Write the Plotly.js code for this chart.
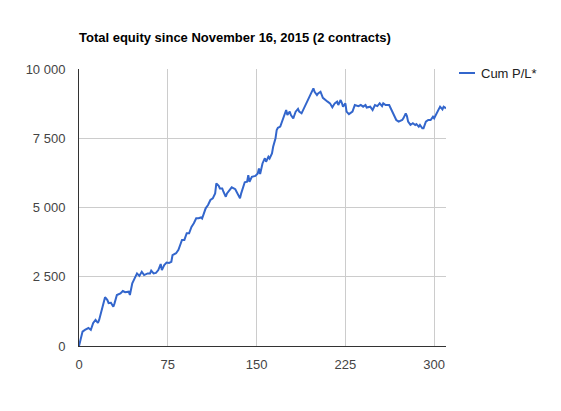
<!DOCTYPE html>
<html>
<head>
<meta charset="utf-8">
<script src="https://cdn.plot.ly/plotly-3.0.1.min.js"></script>
<style>html,body{margin:0;padding:0;background:#fff;}#chart{width:561px;height:411px;}</style>
</head>
<body>
<div id="chart"></div>
<script>
const seriesName = "Cum P/L*";
const chartTitle = "Total equity since November 16, 2015 (2 contracts)";
const days = [0,3,5,8,10,12,14,16,17,20,22,24,25,27,29,30,32,35,37,39,42,43,45,47,49,51,53,55,58,60,61,63,65,67,69,70,72,74,76,78,79,82,84,86,87,89,91,93,95,97,99,101,103,104,106,107,109,111,113,115,116,118,119,121,122,124,125,127,129,132,133,134,136,137,139,140,142,143,144,146,149,151,152,153,155,157,158,160,161,163,164,166,167,168,170,172,173,175,176,178,179,181,182,183,185,186,188,190,191,192,194,195,197,198,199,201,202,204,206,208,210,212,214,216,218,219,221,222,223,225,226,228,231,233,236,238,240,242,243,246,248,250,252,254,256,257,259,262,264,266,268,270,273,274,276,277,278,280,282,284,285,287,288,290,291,293,295,297,299,300,302,304,305,307,308,310];
const cumPL = [0,520,580,650,580,830,940,830,940,1420,1760,1660,1550,1560,1420,1540,1840,1900,1985,1940,1960,1840,2260,2440,2620,2530,2680,2560,2620,2620,2720,2620,2640,2740,2960,2740,2920,3010,3000,3040,3280,3350,3470,3710,3830,3830,4070,4070,4300,4430,4610,4610,4640,4600,4850,4970,5090,5270,5330,5510,5870,5780,5690,5690,5570,5390,5510,5630,5730,5660,5570,5450,5330,5510,5810,5910,5930,6170,5930,6110,6140,6230,6410,6210,6590,6780,6650,6830,6770,6950,7190,7500,7800,7880,7920,8160,8340,8520,8340,8460,8340,8220,8340,8460,8560,8460,8400,8580,8700,8780,8940,9060,9180,9300,9180,9060,9120,9180,8960,8880,8820,8760,8620,8760,8820,8700,8880,8780,8640,8760,8460,8370,8460,8700,8660,8700,8640,8700,8610,8640,8520,8700,8660,8760,8660,8760,8700,8700,8520,8340,8160,8100,8160,8220,8400,8300,8100,7980,8040,7980,8010,7920,7980,7860,7860,8100,8160,8160,8280,8220,8400,8520,8640,8540,8640,8580];
const xTicks = [0,75,150,225,300];
const xTickText = ["0","75","150","225","300"];
const yTicks = [0,2500,5000,7500,10000];
const yTickText = ["0","2 500","5 000","7 500","10 000"];

const W = 561, H = 411;
const L = 79, R = 446, T = 69, B = 346;

const trace = {
  x: days, y: cumPL, type: 'scatter', mode: 'lines', name: seriesName,
  line: {color: '#3366cc', width: 2}, showlegend: false, hoverinfo: 'skip'
};

const layout = {
  width: W, height: H,
  margin: {l: L, r: W - R, t: T, b: H - B, pad: 0},
  paper_bgcolor: '#fff', plot_bgcolor: '#fff',
  font: {family: 'Liberation Sans, Arial, sans-serif', size: 13, color: '#444'},
  title: {text: chartTitle, font: {family: 'Liberation Sans, Arial, sans-serif', size: 13, color: '#000', weight: 'bold'},
    xref: 'container', yref: 'container', x: L / W, xanchor: 'left', y: 1 - 37 / H, yanchor: 'middle'},
  xaxis: {range: [0, 310], tickvals: xTicks, ticktext: xTickText, showgrid: true, gridcolor: '#cccccc', gridwidth: 1,
    zeroline: false, showline: true, linecolor: '#333', linewidth: 1, ticks: 'outside', ticklen: 6, tickcolor: 'rgba(0,0,0,0)',
    tickfont: {size: 13, color: '#444'}, fixedrange: true},
  yaxis: {range: [0, 10000], tickvals: yTicks, ticktext: yTickText, showgrid: true, gridcolor: '#cccccc', gridwidth: 1,
    zeroline: false, showline: true, linecolor: '#333', linewidth: 1, ticks: 'outside', ticklen: 10, tickcolor: 'rgba(0,0,0,0)',
    tickfont: {size: 13, color: '#444'}, fixedrange: true},
  showlegend: false,
  shapes: [
    {type: 'line', xref: 'paper', yref: 'paper', x0: (459 - L) / (R - L), x1: (475 - L) / (R - L),
      y0: (B - 73) / (B - T), y1: (B - 73) / (B - T), line: {color: '#3366cc', width: 2}}
  ],
  annotations: [
    {text: seriesName, xref: 'paper', yref: 'paper', x: (479 - L) / (R - L), y: (B - 73) / (B - T),
      xanchor: 'left', yanchor: 'middle', showarrow: false, font: {size: 13, color: '#222'}}
  ]
};

Plotly.newPlot('chart', [trace], layout, {staticPlot: true, displayModeBar: false});
</script>
</body>
</html>
